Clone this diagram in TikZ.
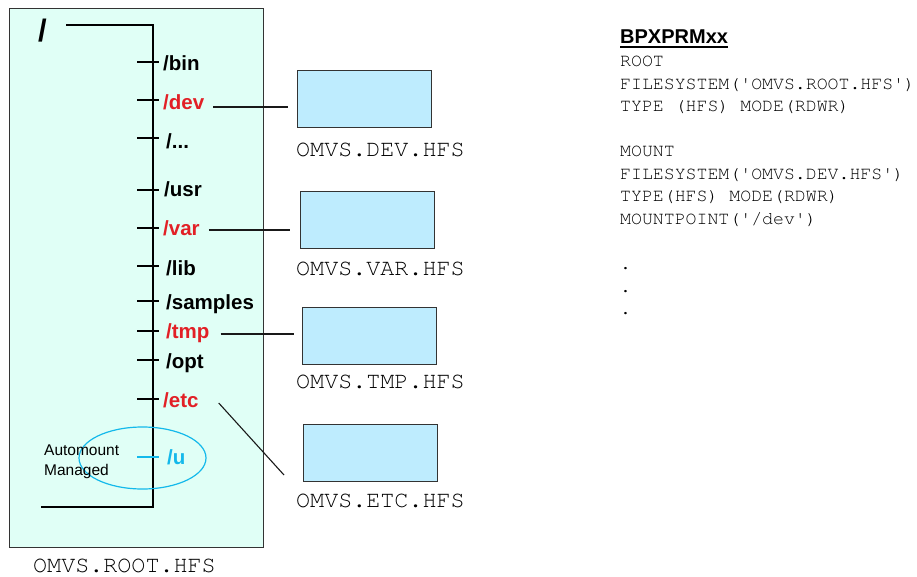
\documentclass[tikz,border=0pt]{standalone}
\usepackage{fontspec}
\usetikzlibrary{shapes.geometric}
\setmainfont{Liberation Sans}
\newfontfamily\monofont{TeX Gyre Cursor}
\definecolor{rootfill}{RGB}{224,255,246}
\definecolor{hfsfill}{RGB}{190,236,254}
\definecolor{mountred}{RGB}{226,32,38}
\definecolor{autocyan}{RGB}{20,185,235}
\definecolor{frame}{RGB}{51,51,51}
\begin{document}
\begin{tikzpicture}[x=1pt,y=-1pt,
  dir/.style={anchor=base west,inner sep=0pt,font=\fontsize{20.5}{22}\selectfont\bfseries},
  mounted/.style={dir,text=mountred},
  tick/.style={line width=1.3pt},
  link/.style={line width=1.1pt,black!90},
  hfsbox/.style={draw=frame,line width=1pt,fill=hfsfill,minimum width=134pt,minimum height=57pt,inner sep=0pt,anchor=north west},
  hfslabel/.style={anchor=base west,inner sep=0pt,text=black,font=\monofont\fontsize{23.4}{25}\selectfont},
  parm/.style={anchor=base west,inner sep=0pt,text=black,font=\monofont\fontsize{18.2}{20}\selectfont}]
\useasboundingbox (0,0) rectangle (917,577);

% root file system
\node[draw=frame,line width=1.2pt,fill=rootfill,minimum width=254pt,minimum height=539pt,inner sep=0pt,anchor=north west] (rootfs) at (9,8) {};
\node[hfslabel] (rootlabel) at (33,572) {OMVS.ROOT.HFS};

% directory tree
\node[anchor=base west,inner sep=0pt,font=\fontsize{31}{32}\selectfont\bfseries] (slash) at (38,42) {/};
\coordinate (treetop) at (153,25);
\coordinate (treebot) at (153,507);
\draw[line width=1.3pt] ([xshift=19]slash.east |- treetop) -- (treetop) -- (treebot) -- ++(-112,0);

\foreach \y in {62,100,138,190,228,266,301,331,360,399}{
  \draw[tick] (137,\y) -- (159,\y);
}
\node[dir] (bin) at (163,71) {/bin};
\node[mounted] (dev) at (163,110) {/dev};
\node[dir] (dots) at (166,149) {/...};
\node[dir] (usr) at (164,197) {/usr};
\node[mounted] (var) at (163,235) {/var};
\node[dir] (lib) at (166,275) {/lib};
\node[dir] (samples) at (166,309) {/samples};
\node[mounted] (tmp) at (166,338) {/tmp};
\node[dir] (opt) at (166,368) {/opt};
\node[mounted] (etc) at (163,407) {/etc};

% automount managed /u
\draw[tick,autocyan] (137,457) -- (159,457);
\node[dir,text=autocyan] (u) at (167,464) {/u};
\node[draw=autocyan,line width=1.2pt,ellipse,minimum width=127pt,minimum height=62pt,inner sep=0pt] (automount) at (142.5,458) {};
\node[anchor=base west,inner sep=0pt,align=left,font=\fontsize{15.5}{20}\selectfont] (autolabel) at (44,475) {Automount\\Managed};

% mounted file systems
\node[hfsbox] (devbox) at (297,70) {};
\node[hfslabel] (devlabel) at (296,157) {OMVS.DEV.HFS};
\node[hfsbox] (varbox) at (300,191) {};
\node[hfslabel] (varlabel) at (296,275) {OMVS.VAR.HFS};
\node[hfsbox] (tmpbox) at (302,307) {};
\node[hfslabel] (tmplabel) at (296,388) {OMVS.TMP.HFS};
\node[hfsbox] (etcbox) at (303,424) {};
\node[hfslabel] (etclabel) at (296,507) {OMVS.ETC.HFS};

% mount point connectors
\coordinate (devA) at ([shift={(9,-3)}]dev.base east);
\coordinate (varA) at ([shift={(9,-5)}]var.base east);
\coordinate (tmpA) at ([shift={(11,-4)}]tmp.base east);
\coordinate (etcA) at ([shift={(20,-4)}]etc.base east);
\coordinate (etcB) at ([shift={(-19,22)}]etcbox.west);
\draw[link] (devA) -- ([xshift=-9]devA -| devbox.west);
\draw[link] (varA) -- ([xshift=-10]varA -| varbox.west);
\draw[link] (tmpA) -- ([xshift=-8]tmpA -| tmpbox.west);
\draw[link] (etcA) -- (etcB);

% BPXPRMxx parmlib member
\node[anchor=base west,inner sep=0pt,font=\fontsize{20}{22}\selectfont\bfseries] (parmtitle) at (620,44) {BPXPRMxx};
\draw[line width=1.3pt] ([yshift=-3]parmtitle.base west) -- ([yshift=-3]parmtitle.base east);
\node[parm] (p1) at (620,67) {ROOT};
\node[parm] (p2) at (620,89.5) {FILESYSTEM('OMVS.ROOT.HFS')};
\node[parm] (p3) at (620,112) {TYPE (HFS) MODE(RDWR)};
\node[parm] (p4) at (620,157) {MOUNT};
\node[parm] (p5) at (620,179.5) {FILESYSTEM('OMVS.DEV.HFS')};
\node[parm] (p6) at (620,202) {TYPE(HFS) MODE(RDWR)};
\node[parm] (p7) at (620,224.5) {MOUNTPOINT('/dev')};
\node[parm] (d1) at (620,269.5) {.};
\node[parm] (d2) at (620,292) {.};
\node[parm] (d3) at (620,314.5) {.};
\end{tikzpicture}
\end{document}
